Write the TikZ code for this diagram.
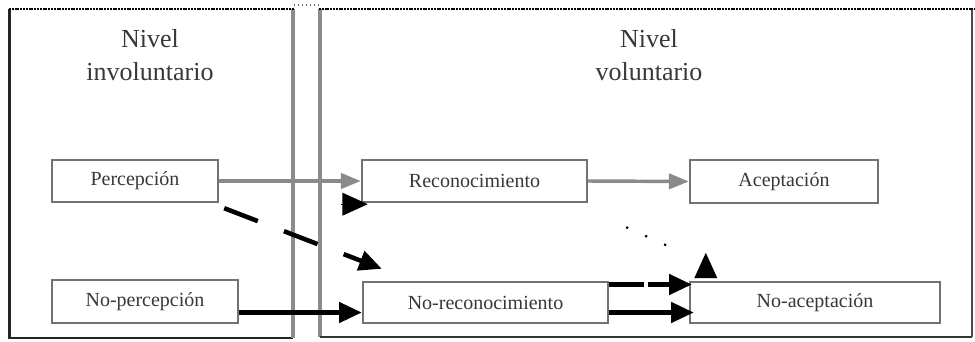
\documentclass[tikz,border=0pt]{standalone}
\usepackage{fontspec}
\setmainfont{Liberation Serif}
\usetikzlibrary{arrows.meta,calc}
\definecolor{boxgray}{HTML}{727272}
\definecolor{txtgray}{HTML}{383838}
\definecolor{arrgray}{HTML}{8A8A8A}
\definecolor{panelgray}{HTML}{8C8C8C}
\begin{document}
\begin{tikzpicture}[x=0.75pt,y=-0.75pt,
  box/.style={draw=boxgray,line width=1.8pt,fill=white,text=txtgray,
    font=\fontsize{15}{18}\selectfont,inner sep=0pt},
  header/.style={text=txtgray,font=\fontsize{19.5}{25}\selectfont,align=center,inner sep=0pt},
  grayarrow/.style={draw=arrgray,line width=2.6pt,-{Triangle[length=15pt,width=11.5pt]}},
  blackarrow/.style={draw=black,line width=3.4pt,-{Triangle[length=17pt,width=15pt]}},
  headonly/.style={draw=black,line width=1pt,-{Triangle[length=19pt,width=17pt]}},
  paneltop/.style={draw=black,line width=2pt,dash pattern=on 1.5pt off 0.6pt},
  panelside/.style={draw=panelgray,line width=2.6pt},
  paneldark/.style={draw=black!85,line width=2.2pt}
]
\useasboundingbox (0,0) rectangle (975,342);

% panels
\draw[paneldark] (9.5,9) -- (9.5,338) -- (293,338);
\draw[panelside] (293,9) -- (293,338);
\draw[paneltop] (9,9) -- (294,9);
\draw[panelside] (320,9) -- (320,337);
\draw[draw=black!80,line width=2pt] (320,337) -- (972,337);
\draw[draw=black!70,line width=1.2pt] (972,9) -- (972,337);
\draw[paneltop] (319,9) -- (975,9);
\draw[draw=black!60,line width=1pt,dotted] (294,5) -- (319,5);

% headers
\node[header] (hinv) at (150,55) {Nivel\\involuntario};
\node[header] (hvol) at (649,55) {Nivel\\voluntario};

% boxes
\node[box,minimum width=124.5pt,minimum height=31.5pt] (perc) at (135,181) {Percepción};
\node[box,minimum width=139.5pt,minimum height=32.25pt] (noperc) at (145,301.5) {No-percepción};
\node[box,minimum width=168.75pt,minimum height=31.5pt] (reco) at (474.5,181) {Reconocimiento};
\node[box,minimum width=183.75pt,minimum height=30.75pt] (noreco) at (485.5,302.5) {No-reconocimiento};
\node[box,minimum width=141pt,minimum height=32.25pt] (acep) at (784,181.5) {Aceptación};
\node[box,minimum width=187.5pt,minimum height=30.75pt] (noacep) at (815,302.5) {No-aceptación};

% gray arrows
\draw[grayarrow] (perc.east) -- (reco.west);
\draw[grayarrow] (reco.east) -- (acep.west);

% black arrows
\coordinate (a1) at ($(noperc.east)+(0,11)$);
\draw[blackarrow] (a1) -- (a1 -| noreco.west);
\coordinate (a2) at ($(noreco.east)+(0,-18)$);
\draw[blackarrow,dash pattern=on 26pt off 3pt] (a2) -- ($(a2 -| noacep.west)+(3,0)$);
\coordinate (a3) at ($(noreco.east)+(0,10)$);
\draw[blackarrow] (a3) -- ($(a3 -| noacep.west)+(5,0)$);

% dashed diagonal
\coordinate (d1) at ($(perc.south east)+(5,5)$);
\coordinate (d2) at ($(noreco.north west)+(20,-12)$);
\draw[blackarrow,dash pattern=on 27pt off 21pt] (d1) -- (d2);

% isolated head under Reconocimiento
\coordinate (h1) at ($(reco.south west)+(-20,1)$);
\draw[headonly] (h1) -- ($(reco.south west)+(7,1)$);

% dotted line and upward head
\coordinate (p1) at ($(reco.south east)+(38,24)$);
\coordinate (p2) at ($(noacep.north west)+(-6,-28)$);
\draw[draw=black,line width=1.6pt,dash pattern=on 1.6pt off 14pt] (p1) -- (p2);
\coordinate (u1) at ($(noacep.north west)+(17,-4)$);
\draw[headonly] (u1) -- ($(noacep.north west)+(17,-28)$);
\end{tikzpicture}
\end{document}
